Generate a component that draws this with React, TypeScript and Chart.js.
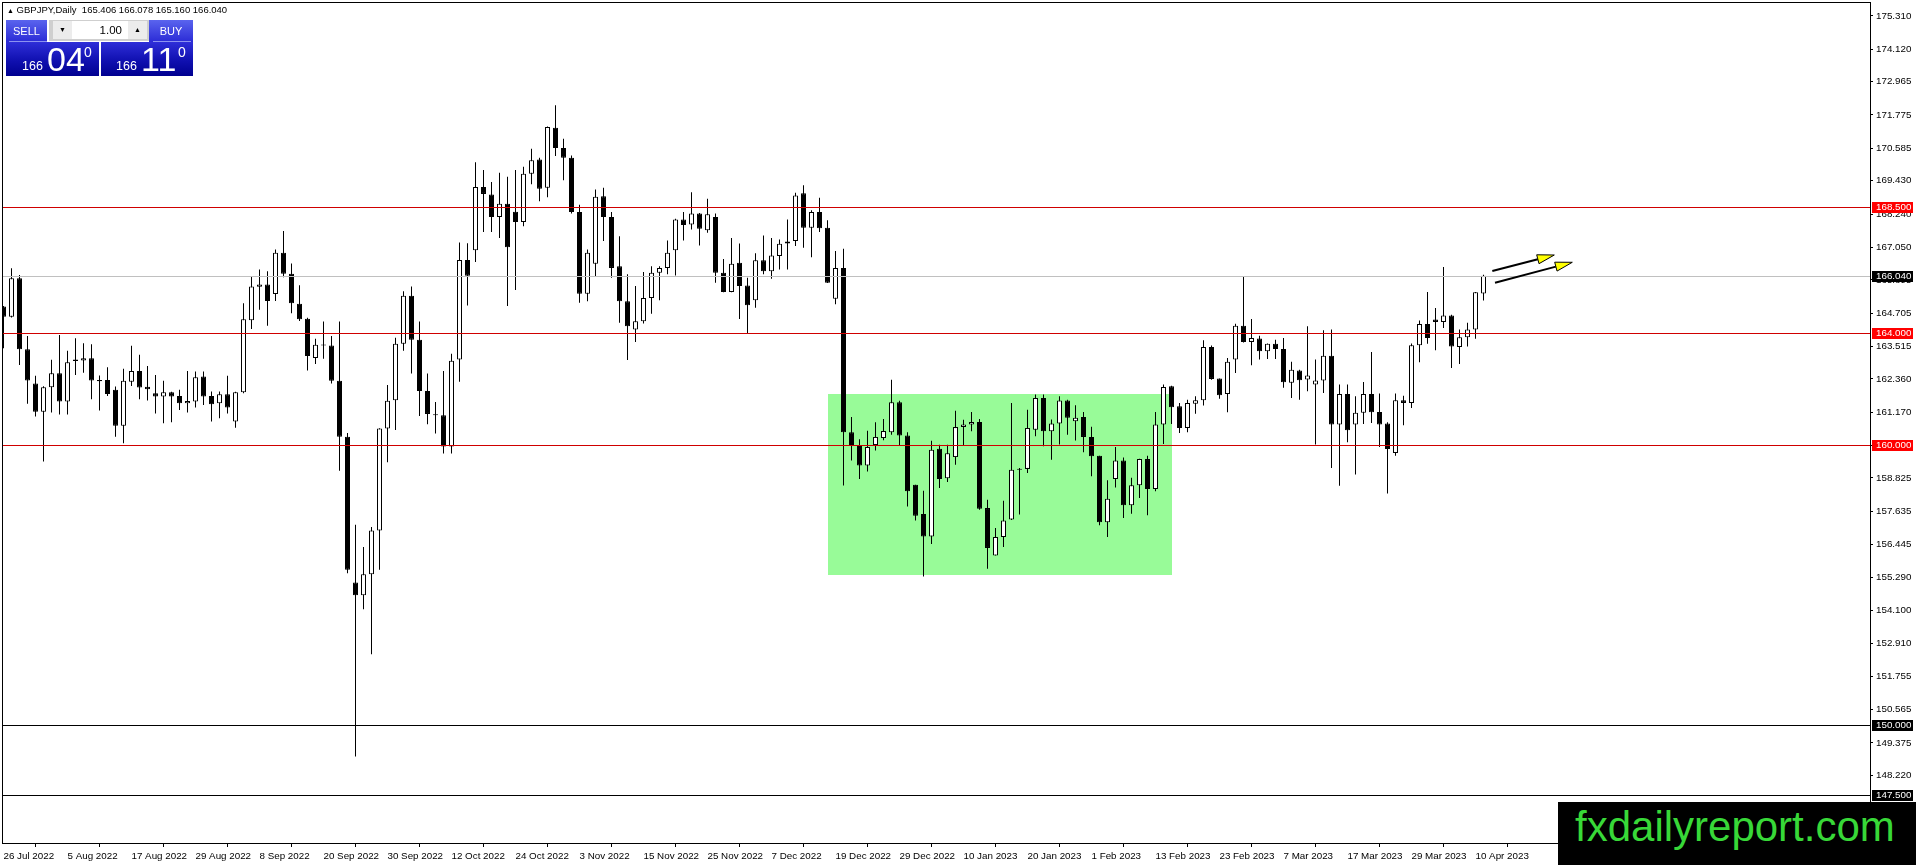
import React, { useEffect, useRef } from "react";
import { Chart, registerables } from "chart.js";

Chart.register(...registerables);

// ---- data ----
const dateLabels = [
  "26 Jul 2022", "5 Aug 2022", "17 Aug 2022", "29 Aug 2022", "8 Sep 2022", "20 Sep 2022",
  "30 Sep 2022", "12 Oct 2022", "24 Oct 2022", "3 Nov 2022", "15 Nov 2022", "25 Nov 2022",
  "7 Dec 2022", "19 Dec 2022", "29 Dec 2022", "10 Jan 2023", "20 Jan 2023", "1 Feb 2023",
  "13 Feb 2023", "23 Feb 2023", "7 Mar 2023", "17 Mar 2023", "29 Mar 2023", "10 Apr 2023",
];
const barsPerDateLabel = 8;

const opens = [
  164.94, 164.58, 165.95, 163.42, 162.20, 161.19, 162.06, 162.56, 161.55, 163.05,
  163.02, 163.10, 162.32, 162.32, 161.97, 160.69, 162.26, 162.64, 162.08, 161.85,
  161.73, 161.88, 161.75, 161.49, 161.55, 162.45, 161.75, 161.49, 161.81, 160.84,
  161.88, 164.45, 165.65, 165.73, 165.39, 166.86, 166.11, 165.04, 164.51, 163.11,
  163.58, 163.55, 162.29, 160.30, 155.10, 154.64, 155.39, 156.95, 160.59, 161.60,
  163.61, 165.33, 163.76, 161.93, 161.08, 161.06, 159.95, 163.05, 166.60, 166.95,
  169.21, 168.94, 168.14, 168.61, 168.32, 167.96, 169.68, 170.19, 169.18, 171.32,
  170.60, 170.25, 168.31, 165.40, 166.47, 168.88, 168.14, 166.38, 165.13, 164.12,
  164.42, 165.25, 166.15, 166.32, 166.95, 168.05, 167.87, 168.26, 167.66, 168.14,
  166.15, 165.46, 166.50, 165.69, 165.17, 166.59, 166.20, 166.74, 167.19, 167.28,
  168.98, 167.75, 168.31, 167.75, 165.22, 166.32, 160.46, 160.00, 159.27, 160.00,
  160.25, 160.46, 161.53, 160.34, 158.58, 157.54, 156.74, 159.87, 158.82, 159.57,
  160.64, 160.73, 160.82, 157.75, 156.06, 156.72, 157.34, 159.12, 159.15, 160.55,
  161.68, 160.49, 160.77, 161.59, 160.85, 161.00, 160.29, 159.62, 157.25, 158.79,
  159.45, 157.85, 158.57, 159.50, 158.43, 160.73, 162.10, 161.38, 160.61, 161.47,
  161.60, 163.50, 162.37, 161.82, 163.05, 164.26, 163.68, 163.80, 163.35, 163.61,
  163.43, 162.22, 162.66, 162.34, 162.16, 162.30, 163.19, 160.73, 161.82, 160.73,
  161.15, 161.82, 161.18, 160.77, 159.72, 161.60, 161.50, 163.56, 164.32, 164.48,
  164.39, 164.62, 163.50, 163.85, 164.12, 165.406,
];
const highs = [
  164.96, 166.31, 166.07, 163.89, 162.47, 162.10, 163.04, 163.93, 163.36, 163.81,
  163.63, 163.60, 162.48, 162.78, 162.09, 162.72, 163.54, 163.22, 162.82, 162.50,
  162.29, 161.90, 161.97, 162.64, 162.62, 162.62, 161.91, 161.91, 162.47, 161.90,
  165.06, 166.01, 166.26, 166.20, 166.98, 167.64, 166.48, 165.70, 164.54, 163.79,
  164.41, 163.89, 164.41, 160.43, 157.16, 156.36, 157.08, 160.60, 162.14, 163.83,
  165.49, 165.66, 164.41, 162.55, 161.54, 162.64, 163.26, 167.23, 167.20, 170.09,
  169.81, 169.38, 169.71, 169.57, 169.81, 169.93, 170.57, 170.25, 171.36, 172.12,
  170.93, 170.33, 168.57, 166.98, 169.12, 169.18, 168.31, 167.45, 166.09, 165.67,
  166.17, 166.38, 166.38, 167.30, 168.07, 168.31, 169.02, 168.28, 168.79, 168.26,
  166.64, 167.39, 167.19, 165.97, 166.84, 167.48, 167.39, 167.33, 168.05, 169.00,
  169.27, 168.38, 168.82, 168.02, 166.92, 167.00, 161.00, 160.21, 160.51, 160.81,
  160.93, 162.33, 161.58, 160.46, 158.58, 158.37, 160.15, 160.01, 160.01, 161.22,
  160.90, 161.18, 160.93, 158.05, 157.04, 158.01, 161.50, 159.18, 161.26, 161.80,
  161.80, 160.91, 161.74, 161.62, 161.42, 161.18, 160.65, 159.62, 158.74, 159.93,
  159.56, 158.83, 159.51, 159.62, 161.18, 162.16, 162.12, 161.50, 161.62, 161.74,
  163.74, 163.55, 162.37, 163.11, 164.33, 166.02, 164.50, 163.90, 163.62, 163.76,
  163.82, 162.97, 162.69, 164.24, 163.05, 164.10, 164.12, 162.16, 162.16, 161.74,
  162.25, 163.32, 161.84, 160.81, 161.84, 161.76, 163.62, 164.44, 165.46, 164.89,
  166.35, 164.65, 164.12, 164.36, 165.46, 166.078,
];
const lows = [
  163.45, 164.55, 162.86, 161.47, 161.02, 159.41, 161.16, 161.09, 161.09, 162.50,
  162.58, 161.63, 161.23, 161.75, 160.30, 160.06, 162.11, 161.63, 161.59, 161.13,
  160.78, 160.81, 161.25, 161.16, 161.34, 161.43, 160.84, 160.96, 161.13, 160.62,
  161.85, 164.14, 164.83, 164.26, 165.14, 165.99, 164.70, 164.43, 162.66, 162.89,
  163.08, 162.20, 159.08, 155.43, 148.89, 154.14, 152.54, 155.55, 159.39, 160.54,
  163.36, 162.55, 161.04, 160.74, 160.41, 159.70, 159.70, 162.26, 164.98, 166.53,
  167.60, 167.60, 167.39, 164.96, 165.53, 167.81, 169.30, 168.70, 168.84, 170.31,
  169.45, 168.26, 165.08, 165.13, 166.00, 167.28, 165.97, 164.36, 163.03, 163.68,
  164.34, 164.68, 165.17, 166.09, 166.05, 167.30, 167.69, 167.12, 167.57, 165.79,
  165.45, 165.45, 164.50, 164.00, 164.90, 166.09, 165.93, 166.26, 166.26, 167.10,
  167.04, 166.70, 167.60, 165.78, 165.02, 158.56, 159.45, 158.79, 159.06, 159.81,
  160.17, 160.37, 160.00, 157.81, 157.31, 155.31, 156.47, 158.47, 158.68, 159.30,
  160.00, 160.49, 157.69, 155.59, 156.06, 156.36, 157.33, 157.52, 159.00, 160.31,
  159.96, 159.48, 160.02, 160.37, 160.16, 159.74, 158.89, 157.14, 156.72, 158.49,
  157.40, 157.55, 158.11, 157.50, 158.35, 160.04, 160.75, 160.43, 160.46, 161.12,
  161.41, 162.33, 161.65, 161.17, 162.57, 163.66, 162.85, 163.05, 163.07, 163.07,
  162.04, 161.68, 161.62, 161.92, 160.02, 161.86, 159.18, 158.55, 160.10, 158.95,
  160.75, 160.79, 159.93, 158.27, 159.62, 160.71, 161.32, 162.95, 163.61, 163.38,
  164.18, 162.75, 162.89, 163.52, 163.79, 165.160,
];
const closes = [
  164.58, 165.95, 163.42, 162.30, 161.19, 162.06, 162.56, 161.55, 162.95, 163.00,
  163.10, 162.30, 162.28, 161.82, 160.69, 162.29, 162.64, 162.05, 161.99, 161.73,
  161.88, 161.73, 161.49, 161.57, 162.42, 161.73, 161.46, 161.81, 161.34, 161.88,
  164.49, 165.66, 165.73, 165.14, 166.86, 166.11, 165.06, 164.49, 163.18, 163.58,
  163.55, 162.29, 160.30, 155.55, 154.64, 155.39, 156.95, 160.59, 161.58, 163.61,
  165.33, 163.76, 161.93, 161.11, 161.06, 159.95, 163.01, 166.60, 166.04, 169.21,
  168.96, 168.14, 168.61, 167.06, 167.96, 169.68, 170.16, 169.14, 171.35, 170.60,
  170.25, 168.31, 165.40, 166.86, 168.86, 168.14, 166.32, 165.13, 164.24, 164.42,
  165.25, 166.15, 166.32, 166.86, 168.05, 167.85, 168.26, 167.72, 168.23, 166.15,
  165.46, 166.47, 165.67, 164.99, 166.59, 166.20, 166.76, 167.18, 167.26, 168.90,
  167.75, 168.31, 167.73, 165.79, 166.32, 160.46, 160.00, 159.27, 159.93, 160.29,
  160.50, 161.53, 160.34, 158.35, 157.48, 156.74, 159.83, 158.79, 159.71, 160.64,
  160.73, 160.82, 157.73, 156.33, 156.72, 157.31, 159.12, 159.14, 160.61, 161.68,
  160.49, 160.77, 161.59, 160.97, 160.97, 160.29, 159.60, 157.25, 158.08, 159.45,
  157.85, 158.57, 159.50, 158.43, 160.73, 162.07, 161.35, 160.61, 161.50, 161.60,
  163.50, 162.36, 161.78, 162.97, 164.26, 163.68, 163.82, 163.35, 163.61, 163.43,
  162.24, 162.69, 162.31, 162.48, 162.30, 163.19, 160.73, 161.82, 160.53, 161.15,
  161.82, 161.17, 160.73, 159.86, 161.60, 161.50, 163.56, 164.32, 163.82, 164.39,
  164.62, 163.52, 163.85, 164.12, 165.45, 166.040,
];

const yTickValues = [
  175.31, 174.12, 172.965, 171.775, 170.585, 169.43, 168.24, 167.05, 165.895, 164.705,
  163.515, 162.36, 161.17, 159.98, 158.825, 157.635, 156.445, 155.29, 154.1, 152.91,
  151.755, 150.565, 149.375, 148.22, 147.03,
];
const redLevels = [168.5, 164.0, 160.0];
const blackLevels = [150.0, 147.5];
const bidPrice = 166.04;
const zoneBars = [103, 146];
const zonePrices = [161.82, 155.35];
const arrowStartBars = [186.1, 186.44];
const arrowStartPrices = [166.21, 165.79];
const arrowEndBars = [193.85, 196.1];
const arrowEndPrices = [166.78, 166.52];

const headerText = "GBPJPY,Daily  165.406 166.078 165.160 166.040";

const FONT = '"Liberation Sans", Arial, sans-serif';

const abs = (l: number, t: number, extra: React.CSSProperties = {}): React.CSSProperties => ({
  position: "absolute",
  left: l,
  top: t,
  lineHeight: 1,
  whiteSpace: "pre",
  ...extra,
});

export default function App() {
  const ref = useRef<HTMLCanvasElement>(null);

  useEffect(() => {
    const canvas = ref.current;
    if (!canvas) return;
    const idx = opens.map((_, i) => i);

    const mt4Plugin = {
      id: "mt4",
      beforeDatasetsDraw(chart: any) {
        const { ctx, chartArea: a, scales } = chart;
        const x = scales.x;
        const y = scales.y;
        ctx.save();
        ctx.beginPath();
        ctx.rect(a.left, a.top, a.right - a.left, a.bottom - a.top);
        ctx.clip();
        const x0 = x.getPixelForValue(zoneBars[0]);
        const x1 = x.getPixelForValue(zoneBars[1]);
        const y0 = y.getPixelForValue(zonePrices[0]);
        const y1 = y.getPixelForValue(zonePrices[1]);
        ctx.fillStyle = "#98fb98";
        ctx.fillRect(Math.round(x0), Math.round(y0), Math.round(x1 - x0), Math.round(y1 - y0));
        ctx.restore();
      },
      afterDatasetsDraw(chart: any) {
        const { ctx, chartArea: a, scales } = chart;
        const x = scales.x;
        const y = scales.y;
        ctx.save();
        ctx.beginPath();
        ctx.rect(a.left, a.top, a.right - a.left, a.bottom - a.top);
        ctx.clip();
        const hline = (v: number, color: string) => {
          const py = Math.round(y.getPixelForValue(v)) + 0.5;
          ctx.beginPath();
          ctx.strokeStyle = color;
          ctx.lineWidth = 1;
          ctx.moveTo(a.left, py);
          ctx.lineTo(a.right, py);
          ctx.stroke();
        };
        hline(bidPrice, "#c0c0c0");
        redLevels.forEach((v) => hline(v, "#d00000"));
        blackLevels.forEach((v) => hline(v, "#000000"));

        // arrows
        arrowStartBars.forEach((_, k) => {
          const sx = x.getPixelForValue(arrowStartBars[k]);
          const sy = y.getPixelForValue(arrowStartPrices[k]);
          const tx = x.getPixelForValue(arrowEndBars[k]);
          const ty = y.getPixelForValue(arrowEndPrices[k]);
          const dx = tx - sx;
          const dy = ty - sy;
          const len = Math.hypot(dx, dy);
          const ux = dx / len;
          const uy = dy / len;
          const headL = 17;
          const headW = 4.6;
          const bx = tx - ux * headL;
          const by = ty - uy * headL;
          ctx.beginPath();
          ctx.strokeStyle = "#000";
          ctx.lineWidth = 2;
          ctx.moveTo(sx, sy);
          ctx.lineTo(bx, by);
          ctx.stroke();
          ctx.beginPath();
          ctx.moveTo(tx, ty);
          ctx.lineTo(bx - uy * headW, by + ux * headW);
          ctx.lineTo(bx + uy * headW, by - ux * headW);
          ctx.closePath();
          ctx.fillStyle = "#ffff00";
          ctx.fill();
          ctx.lineWidth = 1;
          ctx.strokeStyle = "#000";
          ctx.stroke();
        });
        ctx.restore();
      },
      afterDraw(chart: any) {
        const { ctx, chartArea: a, scales } = chart;
        const y = scales.y;
        ctx.save();
        ctx.strokeStyle = "#000";
        ctx.lineWidth = 1;
        ctx.strokeRect(a.left + 0.5, a.top + 0.5, a.right - a.left, a.bottom - a.top);
        const box = (v: number, bg: string) => {
          const py = Math.round(y.getPixelForValue(v));
          ctx.fillStyle = bg;
          ctx.fillRect(a.right + 2, py - 5, 41, 11);
          ctx.fillStyle = "#ffffff";
          ctx.font = `9.8px ${FONT}`;
          ctx.textBaseline = "middle";
          ctx.textAlign = "left";
          ctx.fillText(v.toFixed(3), a.right + 6, py + 0.5);
        };
        redLevels.forEach((v) => box(v, "#ff0000"));
        box(bidPrice, "#000000");
        blackLevels.forEach((v) => box(v, "#000000"));
        ctx.restore();
      },
    };

    const chart = new Chart(canvas, {
      type: "bar",
      data: {
        datasets: [
          {
            label: "body",
            order: 0,
            data: idx.map((i) => ({ x: i, y: [opens[i], closes[i]] })) as any,
            backgroundColor: idx.map((i) => (closes[i] >= opens[i] ? "#ffffff" : "#000000")),
            borderColor: "#000000",
            borderWidth: 1,
            borderSkipped: false,
            barThickness: 5,
            minBarLength: 1,
            grouped: false,
            inflateAmount: 0,
          } as any,
          {
            label: "wick",
            order: 1,
            data: idx.map((i) => ({ x: i, y: [lows[i], highs[i]] })) as any,
            backgroundColor: "#000000",
            borderWidth: 0,
            barThickness: 1,
            grouped: false,
            inflateAmount: 0,
          } as any,
        ],
      },
      options: {
        animation: false,
        responsive: false,
        devicePixelRatio: 1,
        events: [],
        layout: { padding: { left: 2, top: 2, right: 0, bottom: 0 } },
        plugins: { legend: { display: false }, tooltip: { enabled: false } },
        scales: {
          x: {
            type: "linear",
            min: -0.1875,
            max: 233.3125,
            offset: false,
            afterBuildTicks: (s: any) => {
              s.ticks = dateLabels.map((_, k) => ({ value: k * barsPerDateLabel }));
            },
            afterFit: (s: any) => {
              s.height = 22;
              s.paddingLeft = 0;
              s.paddingRight = 0;
            },
            ticks: {
              autoSkip: false,
              maxRotation: 0,
              minRotation: 0,
              align: "start",
              padding: 3,
              color: "#000",
              font: { family: FONT, size: 9.8 },
              callback: (_v: any, i: number) => dateLabels[i],
            },
            grid: { drawOnChartArea: false, drawTicks: true, tickLength: 4, tickColor: "#000", color: "#000" },
            border: { display: false },
          } as any,
          y: {
            type: "linear",
            position: "right",
            min: 145.803,
            max: 175.806,
            afterBuildTicks: (s: any) => {
              s.ticks = yTickValues.map((v) => ({ value: v }));
            },
            afterFit: (s: any) => {
              s.width = 46;
              s.paddingTop = 0;
              s.paddingBottom = 0;
            },
            ticks: {
              autoSkip: false,
              padding: 3,
              color: "#000",
              font: { family: FONT, size: 9.8 },
              callback: (v: any) => Number(v).toFixed(3),
            },
            grid: { drawOnChartArea: false, drawTicks: true, tickLength: 3, tickColor: "#000", color: "#000" },
            border: { display: false },
          } as any,
        },
      },
      plugins: [mt4Plugin],
    });
    return () => chart.destroy();
  }, []);

  const blueTop = "linear-gradient(to bottom, #5a64ee 0%, #2b2bd6 100%)";
  const blueLow = "linear-gradient(to bottom, #2e2ed8 0%, #1010b0 55%, #000090 100%)";
  const white = "#ffffff";

  return (
    <div style={{ position: "relative", width: 1916, height: 865, background: "#fff", overflow: "hidden", fontFamily: FONT }}>
      <style>{`body{margin:0}`}</style>
      <canvas ref={ref} width={1916} height={865} style={{ position: "absolute", left: 0, top: 0, width: 1916, height: 865 }} />

      {/* header */}
      <div style={abs(7, 5, { fontSize: 9.5, color: "#000" })}>
        <span style={{ fontSize: 7 }}>▲</span> {headerText}
      </div>

      {/* trade panel */}
      <div style={abs(6, 20, { width: 41, height: 22, background: blueTop })} />
      <div style={abs(9, 41, { width: 38, height: 1, background: "#8c92f0" })} />
      <div style={abs(6, 25.5, { width: 41, textAlign: "center", fontSize: 11, color: white })}>SELL</div>

      <div style={abs(49, 20, { width: 100, height: 21, background: "#cfcfcf" })} />
      <div style={abs(53, 21, { width: 19, height: 18, background: "#ececec" })} />
      <div style={abs(53, 26, { width: 19, textAlign: "center", fontSize: 7, color: "#000" })}>▼</div>
      <div style={abs(72, 21, { width: 56, height: 18, background: "#ffffff" })} />
      <div style={abs(72, 25.3, { width: 50, textAlign: "right", fontSize: 11.5, color: "#000" })}>1.00</div>
      <div style={abs(128, 21, { width: 19, height: 18, background: "#ececec" })} />
      <div style={abs(128, 26, { width: 19, textAlign: "center", fontSize: 7, color: "#000" })}>▲</div>

      <div style={abs(149, 20, { width: 44, height: 22, background: blueTop })} />
      <div style={abs(153, 41, { width: 38, height: 1, background: "#8c92f0" })} />
      <div style={abs(149, 25.5, { width: 44, textAlign: "center", fontSize: 11, color: white })}>BUY</div>

      <div style={abs(6, 42, { width: 93, height: 34, background: blueLow })} />
      <div style={abs(101, 42, { width: 92, height: 34, background: blueLow })} />
      <div style={abs(22, 59.8, { fontSize: 12.5, color: white })}>166</div>
      <div style={abs(47, 42, { fontSize: 34, color: white })}>04</div>
      <div style={abs(84, 45, { fontSize: 14, color: white })}>0</div>
      <div style={abs(116, 59.8, { fontSize: 12.5, color: white })}>166</div>
      <div style={abs(141, 42, { fontSize: 34, color: white })}>11</div>
      <div style={abs(178, 45, { fontSize: 14, color: white })}>0</div>

      {/* watermark */}
      <div style={abs(1558, 802, { width: 358, height: 63, background: "#000" })} />
      <div style={abs(1575, 806, { fontSize: 42, color: "#38d838" })}>fxdailyreport.com</div>
    </div>
  );
}
